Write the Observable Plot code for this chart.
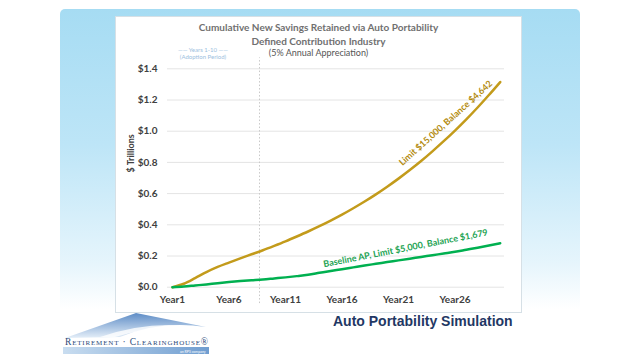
<!DOCTYPE html>
<html><head><meta charset="utf-8">
<script src="https://cdn.jsdelivr.net/npm/d3@7"></script>
<script src="https://cdn.jsdelivr.net/npm/@observablehq/plot@0.6"></script>
<style>
body{margin:0;width:640px;height:360px;position:relative;overflow:hidden;background:#fff;font-family:Lato,sans-serif}
.abs{position:absolute}
.t{position:absolute;left:115px;width:407px;text-align:center;white-space:nowrap}
</style></head><body>
<div class="abs" style="left:60px;top:9px;width:520px;height:300px;border-radius:5px 5px 0 0;background:linear-gradient(#a6dcf3 0%,#bde5f7 45%,#e6f5fc 85%,#ffffff 100%)"></div>
<div class="abs" style="left:115px;top:16px;width:405px;height:295px;background:#fff;border:1px solid #d6e0e6"></div>
<div class="t" style="top:20px;font-size:10px;font-weight:700;color:#707070;line-height:14px">Cumulative New Savings Retained via Auto Portability<br>Defined Contribution Industry</div>
<div class="t" style="top:47px;font-size:9px;color:#555;line-height:12px">(5% Annual Appreciation)</div>
<div class="abs" style="left:163px;width:80px;top:45.5px;text-align:center;font-size:6px;color:#9cc0de;line-height:7px;white-space:nowrap">—— Years 1-10 ——<br>(Adoption Period)</div>
<div id="chart" class="abs" style="left:115px;top:16px"></div>
<div class="abs" style="left:333px;top:313px;font-family:'Liberation Sans',Arial,sans-serif;font-weight:700;font-size:14px;color:#1f3864;white-space:nowrap">Auto Portability Simulation</div>
<svg class="abs" style="left:60px;top:310px" width="155" height="50">
  <defs>
    <linearGradient id="roof" x1="0" y1="0" x2="0" y2="1">
      <stop offset="0" stop-color="#5d8cc6"/><stop offset="1" stop-color="#e4eef8"/>
    </linearGradient>
    <linearGradient id="band" x1="0" y1="0" x2="1" y2="0">
      <stop offset="0" stop-color="#c9ddf0"/><stop offset="1" stop-color="#6f9dd0"/>
    </linearGradient>
  </defs>
  <path d="M5,28 L76,3 L146,17 Q100,10 60,27 Z" fill="url(#roof)"/>
  <path d="M40,27 Q95,8 148,19 Q100,14 55,27 Z" fill="#fff" opacity="0.8"/>
  <text x="5" y="35" textLength="143" font-family="'Liberation Serif',serif" font-size="9.5" fill="#2c4a7a" style="font-variant:small-caps">Retirement · Clearinghouse®</text>
  <rect x="3" y="37" width="146" height="7" fill="url(#band)"/>
  <text x="120" y="42.5" font-size="3.5" fill="#fff" font-family="Lato">an RPS company</text>
</svg>
<script>
const years = [1,2,3,4,5,6,7,8,9,10,11,12,13,14,15,16,17,18,19,20,21,22,23,24,25,26,27,28,29,30];
const limit15000 = [0,0.022,0.058,0.097,0.13,0.158,0.185,0.211,0.237,0.265,0.294,0.325,0.357,0.391,0.427,0.465,0.506,0.549,0.595,0.644,0.696,0.751,0.809,0.871,0.936,1.004,1.076,1.152,1.232,1.315];
const baseline5000 = [0,0.004,0.011,0.018,0.026,0.033,0.039,0.044,0.049,0.056,0.063,0.071,0.08,0.092,0.104,0.115,0.127,0.139,0.15,0.161,0.172,0.183,0.194,0.205,0.216,0.227,0.24,0.253,0.267,0.282];
const xTicks = [1,6,11,16,21,26];
const yTicks = [0,0.2,0.4,0.6,0.8,1.0,1.2,1.4];
const adoptionBoundary = 8.7;
const goldLabel = "Limit $15,000, Balance $4,642";
const greenLabel = "Baseline AP, Limit $5,000, Balance $1,679";

const gold = years.map((y,i)=>({year:y, value:limit15000[i]}));
const green = years.map((y,i)=>({year:y, value:baseline5000[i]}));

const chart = Plot.plot({
  width: 406, height: 296,
  marginLeft: 52, marginRight: 17, marginTop: 52.3, marginBottom: 25.3,
  style: {fontFamily: "Lato, sans-serif", color: "#404040", background: "transparent", overflow: "visible"},
  x: {domain: [0.56, 30.38]},
  y: {domain: [0, 1.4]},
  marks: [
    Plot.ruleY(yTicks, {stroke: "#e4e4e4", strokeWidth: 1}),
    Plot.ruleX([adoptionBoundary], {y1: -0.105, y2: 1.47, stroke: "#c8c8c8", strokeDasharray: "1.5,2"}),
    Plot.axisX(xTicks, {tickFormat: d => `Year${d}`, tickSize: 0, tickPadding: 9, fontSize: 10, fontWeight: "bold", label: null}),
    Plot.axisY(yTicks, {tickFormat: d => `$${d.toFixed(1)}`, tickSize: 0, tickPadding: 10, fontSize: 10, fontWeight: "bold", label: null}),
    Plot.text(["$ Trillions"], {text: d => d, frameAnchor: "left", dx: -36, dy: -5.5, rotate: -90, fontSize: 9, fontWeight: "bold", fill: "#404040"}),
    Plot.line(gold, {x: "year", y: "value", stroke: "#c39b1b", strokeWidth: 2.5, curve: "monotone-x"}),
    Plot.line(green, {x: "year", y: "value", stroke: "#00b050", strokeWidth: 2.5, curve: "monotone-x"}),
    Plot.text([gold[24]], {x: "year", y: "value", text: () => goldLabel, dx: 2, dy: -18, rotate: -42, fontSize: 9, fontWeight: "bold", fill: "#b38b0f"}),
    Plot.text([green[20]], {x: "year", y: "value", text: () => greenLabel, dx: 7, dy: -12, rotate: -11, fontSize: 9, fontWeight: "bold", fill: "#1ca352"})
  ]
});
document.getElementById("chart").appendChild(chart);
</script>
</body></html>
